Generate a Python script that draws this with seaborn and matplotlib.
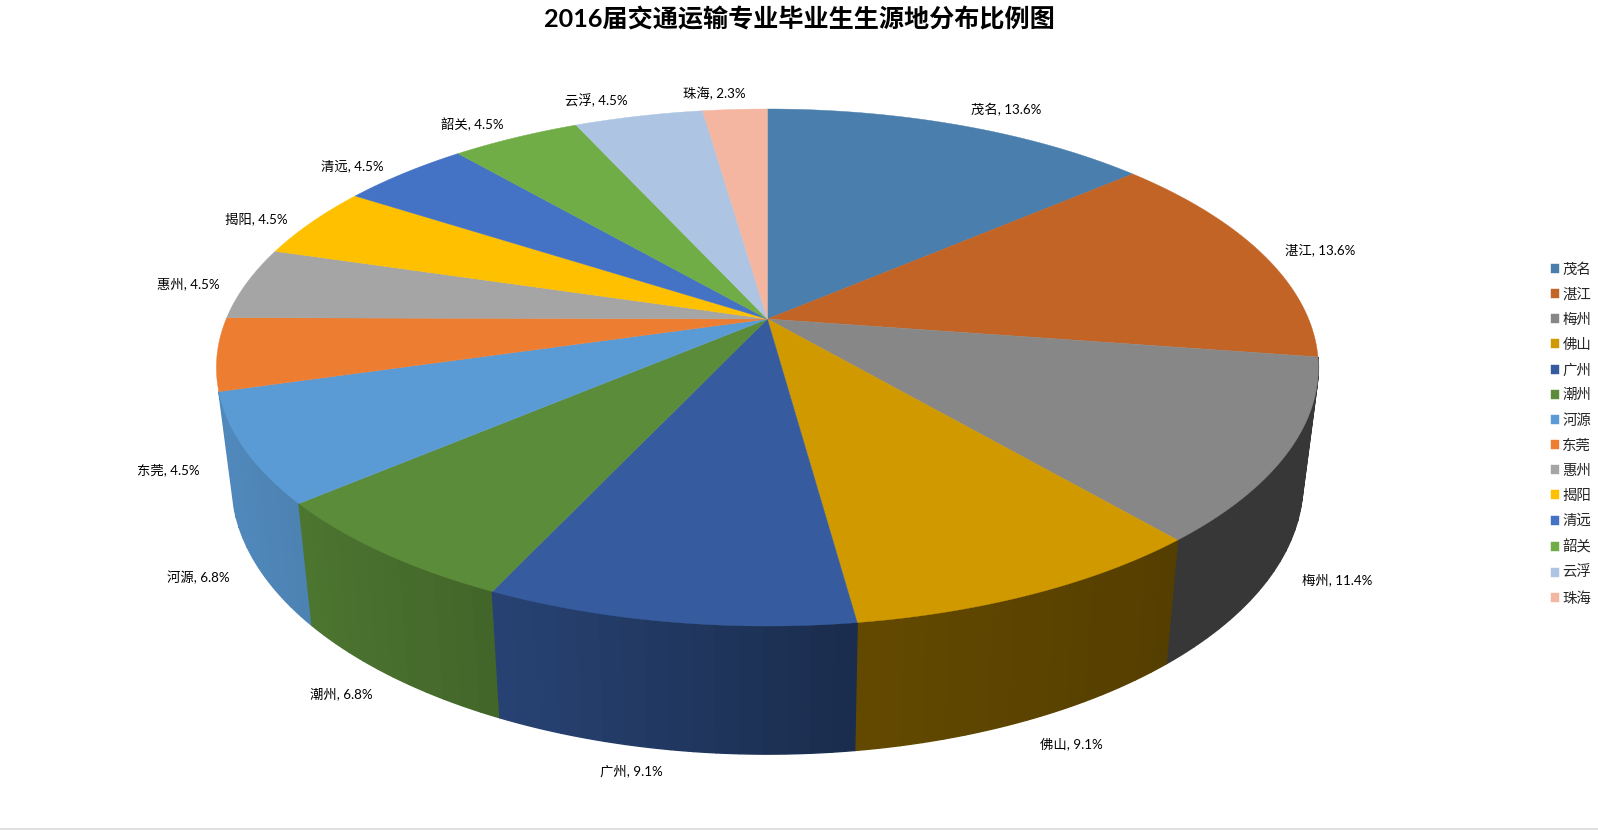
import numpy as np
import matplotlib
matplotlib.use('Agg')
import matplotlib.pyplot as plt
import seaborn as sns

# students per home city (n = 44)
cities = ['茂名', '湛江', '梅州', '佛山', '广州', '潮州', '河源',
          '东莞', '惠州', '揭阳', '清远', '韶关', '云浮', '珠海']
counts = [6, 6, 5, 4, 4, 3, 3, 2, 2, 2, 2, 2, 2, 1]
hex_colors = ['#4A7EAD', '#C26426', '#878787', '#D09900', '#365C9F', '#5B8C39', '#5B9BD5',
              '#ED7D31', '#A5A5A5', '#FFC000', '#4472C4', '#70AD47', '#ADC4E3', '#F4B6A0']
chart_title = '2016届交通运输专业毕业生生源地分布比例图'

# where Excel left the data labels, in pixels
label_xy = [(1006, 110), (1320, 250), (1337, 580), (1071, 744), (631, 771), (341, 694), (198, 577),
            (168, 470), (188, 284), (256, 219), (352, 166), (472, 124), (596, 100), (714, 93)]

sns.set_theme(style='white')
plt.rcParams['font.family'] = ['Lato', 'Noto Sans CJK SC', 'DejaVu Sans']
palette = sns.color_palette(hex_colors)

# perspective of the pie, in pixels
cx, cy = 767.4, 319.0
a, b, k = 541.2, 249.4, 0.1876


def top_face(theta):
    # the picture's slices sit a touch clockwise of a pure projection
    theta = theta + np.radians(0.42) * np.sin(theta / 2)
    u, v = np.sin(theta), np.cos(theta)
    d = 1 + k * v
    return cx + a * u / d, cy - b * v / d


def bottom_face(theta):
    x, y = top_face(theta)
    return cx + 0.972 * (x - cx), 431.8 + 1.05 * (y - cy)


def wall_shade(x):
    return np.interp(x, [230, 500, 860, 1170], [0.88, 0.72, 0.48, 0.41])


fig = plt.figure(figsize=(15.98, 8.3), dpi=100, facecolor='white')
ax = fig.add_axes([0, 0, 1, 1])
ax.set_xlim(0, 1598)
ax.set_ylim(830, 0)
ax.axis('off')

fractions = np.array(counts) / sum(counts)
edges = np.concatenate([[0], np.cumsum(fractions)]) * 2 * np.pi

# side wall: thin strips, back ones first so the front ones cover them
# only the slices up to 河源 show a wall
strips = []
for i in range(cities.index('河源') + 1):
    n = max(int(fractions[i] * 180), 2)
    t = np.linspace(edges[i], edges[i + 1], n + 1)
    for t0, t1 in zip(t[:-1], t[1:]):
        if np.cos((t0 + t1) / 2) < -k * 0.8:
            strips.append((np.cos((t0 + t1) / 2), t0, t1, i))
strips.sort(key=lambda s: -s[0])
for _, t0, t1, i in strips:
    arc = np.linspace(t0, t1, 6)
    xt, yt = top_face(arc)
    xb, yb = bottom_face(arc)
    shade = wall_shade(xt.mean())
    c = tuple(np.array(palette[i]) * shade)
    ax.fill(np.r_[xt, xb[::-1]], np.r_[yt, yb[::-1]], color=c, lw=1.0, zorder=2)

# top face
for i, city in enumerate(cities):
    t = np.linspace(edges[i], edges[i + 1], 120)
    xs, ys = top_face(t)
    ax.fill(np.r_[cx, xs], np.r_[cy, ys], color=palette[i], lw=0.3, zorder=3, label=city)

for i, city in enumerate(cities):
    ax.text(label_xy[i][0], label_xy[i][1], f'{city}, {fractions[i] * 100:.1f}%',
            ha='center', va='center', fontsize=9.6, color='black', zorder=4)

ax.text(799.5, 19, chart_title, ha='center', va='center', fontsize=18.1,
        fontweight='bold', color='black')

ax.legend(loc='upper left', bbox_to_anchor=(1551, 262), bbox_transform=ax.transData,
          frameon=False, fontsize=10.4, handlelength=0.58, handleheight=0.58,
          handletextpad=0.2, labelspacing=0.82, borderpad=0, borderaxespad=0)

ax.axhline(828.5, color='#D9D9D9', lw=1.2, zorder=1)

fig.savefig('out.png', dpi=100, facecolor='white')
